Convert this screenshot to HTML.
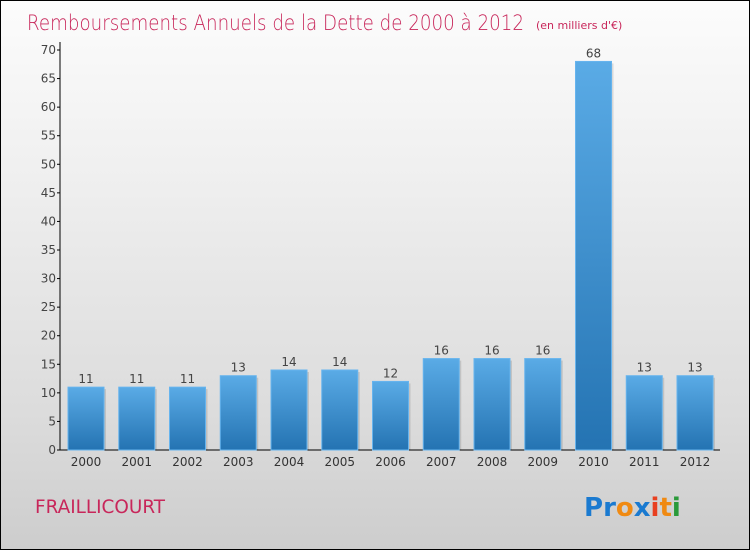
<!DOCTYPE html>
<html><head><meta charset="utf-8"><style>
html,body{margin:0;padding:0}
body{width:750px;height:550px;overflow:hidden;font-family:"DejaVu Sans","Liberation Sans",sans-serif}
#wrap{position:absolute;left:0;top:0;width:748px;height:548px;border:1px solid #000;background:linear-gradient(#fcfcfc,#f0f0f0 30%,#dcdcdc 75%,#cdcdcd)}
</style></head><body>
<div id="wrap">
<svg width="750" height="550" style="position:absolute;left:-1px;top:-1px">
<defs><linearGradient id="bg" x1="0" y1="0" x2="0" y2="1"><stop offset="0" stop-color="#5aabe6"/><stop offset="1" stop-color="#2473b2"/></linearGradient></defs>
<text x="27" y="30" font-size="21" fill="#c8265a" font-family="DejaVu Sans, sans-serif" font-weight="200" textLength="497" lengthAdjust="spacingAndGlyphs">Remboursements Annuels de la Dette de 2000 à 2012</text>
<text x="536" y="29" font-size="11" fill="#c8265a">(en milliers d'€)</text>
<g id="yaxis"></g><g id="bars"></g>
<text x="35" y="513" font-size="19" fill="#c8265a" textLength="130" lengthAdjust="spacingAndGlyphs">FRAILLICOURT</text>
<g font-family="DejaVu Sans, sans-serif" font-size="26" font-weight="bold">
<text x="584" y="516"><tspan fill="#1a7ad0">P</tspan><tspan fill="#1a7ad0">r</tspan><tspan fill="#f08a12">o</tspan><tspan fill="#1a7ad0">x</tspan><tspan fill="#e84020">i</tspan><tspan fill="#f08a12">t</tspan><tspan fill="#2a9a3a">i</tspan></text>
</g>
</svg>
</div>
<script>
const years=["2000","2001","2002","2003","2004","2005","2006","2007","2008","2009","2010","2011","2012"];
const values=[11,11,11,13,14,14,12,16,16,16,68,13,13];
const yTicks=[0,5,10,15,20,25,30,35,40,45,50,55,60,65,70];
const NS="http://www.w3.org/2000/svg";
const y=v=>450-v*400/70;
const x=i=>86+i*50.75;
function mk(t,a,p){const e=document.createElementNS(NS,t);for(const k in a)e.setAttribute(k,a[k]);p.appendChild(e);return e;}
const ya=document.getElementById('yaxis');
const ax=mk('line',{x1:60,y1:42,x2:60,y2:450,stroke:'#000','stroke-width':1},ya);


const xa=mk('line',{x1:60,y1:450,x2:720,y2:450,stroke:'#000','stroke-width':1},ya);


yTicks.forEach(v=>{
 mk('line',{x1:57,y1:y(v),x2:60,y2:y(v),stroke:'#000'},ya);
 const t=mk('text',{x:56,y:y(v)+4,'font-size':12,fill:'#444','text-anchor':'end'},ya);
 t.textContent=v;
 
 
});
const bg=document.getElementById('bars');
values.forEach((v,i)=>{
 mk('rect',{x:x(i)-16,y:y(v)+2,width:36,height:450-y(v)-2,fill:'#000',opacity:0.12},bg);
 const r=mk('rect',{x:x(i)-18,y:y(v),width:36,height:450-y(v),fill:'url(#bg)',stroke:'#66b4ee','stroke-width':1},bg);
 
 
 const l=mk('text',{x:x(i),y:y(v)-4,'font-size':12,fill:'#444','text-anchor':'middle'},bg);
 l.textContent=v;
 
 
 const c=mk('text',{x:x(i),y:466,'font-size':12,fill:'#333','text-anchor':'middle'},bg);
 c.textContent=years[i];
 
 
});
</script>
</body></html>
